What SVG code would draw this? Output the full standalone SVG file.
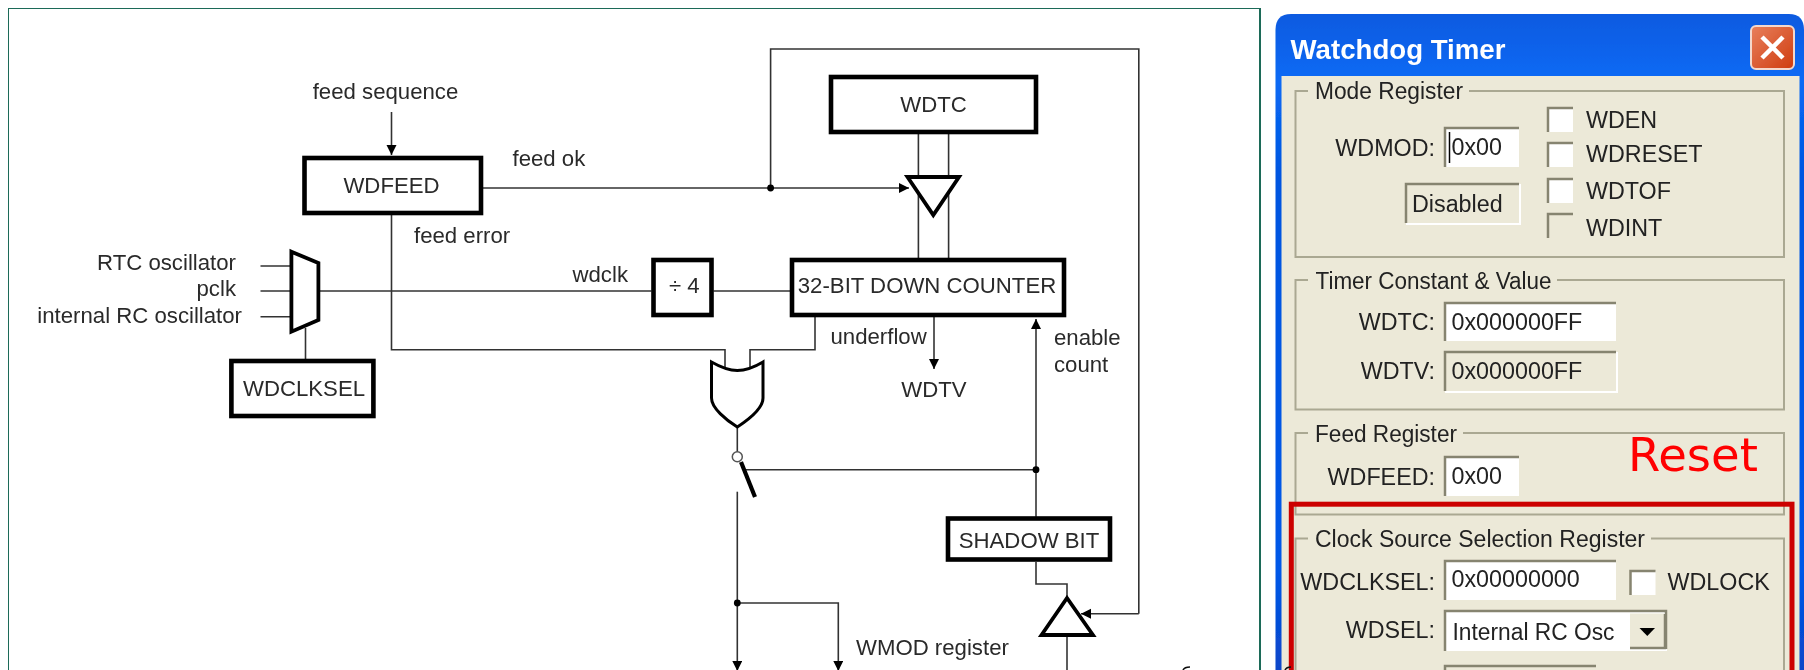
<svg xmlns="http://www.w3.org/2000/svg" width="1804" height="670" viewBox="0 0 1804 670">
<defs>
<linearGradient id="title" x1="0" y1="0" x2="0" y2="1"><stop offset="0" stop-color="#0a5ae0"/><stop offset="0.1" stop-color="#0a6af5"/><stop offset="0.25" stop-color="#0055e0"/><stop offset="0.85" stop-color="#0058e8"/><stop offset="1" stop-color="#0a45c8"/></linearGradient>
<linearGradient id="closeBtn" x1="0" y1="0" x2="1" y2="1"><stop offset="0" stop-color="#e8805c"/><stop offset="1" stop-color="#cf3c10"/></linearGradient>
<marker id="ah" markerUnits="userSpaceOnUse" markerWidth="11" markerHeight="11" refX="10" refY="5" orient="auto"><path d="M0 0L10 5L0 10Z" fill="#000"/></marker>
<filter id="soft" x="0" y="0" width="100%" height="100%"><feGaussianBlur stdDeviation="0.45"/></filter>
</defs>
<style>
text{font-family:"Liberation Sans",Arial,sans-serif;}
.l{font-size:22.2px;fill:#2a2a2a;}
.m{text-anchor:middle;}
.e{text-anchor:end;}
.box{fill:#fff;stroke:#000;stroke-width:4.6;}
.w{fill:none;stroke:#333;stroke-width:1.6;}
.a{marker-end:url(#ah);}
.gate{fill:#fff;stroke:#000;stroke-width:3.8;stroke-linejoin:miter;}
.dot{fill:#000;}
.d{font-size:23.3px;fill:#222;}
.grp{fill:none;stroke:#aaa892;stroke-width:2;}
.in{fill:#fff;}
.ro{fill:#ece9d8;}
.sd{fill:none;stroke:#86846f;stroke-width:2.5;}
.sl{fill:none;stroke:#fff;stroke-width:2;}
.gap{fill:#ece9d8;}
</style>
<rect width="1804" height="670" fill="#fff"/>
<g filter="url(#soft)">
<rect id="frame" x="8" y="8" width="1252" height="670" fill="#fff" stroke="#1b6a58" stroke-width="2"/>

<g id="connectors">
<path class="w a" d="M391.5 112V155"/>
<path class="w a" d="M483 188H909"/>
<path class="w" d="M770.6 188V49H1138.8V613.7"/>
<path class="w a" d="M1138.8 613.7H1081"/>
<path class="w" d="M391.5 215V349.7H725V368"/>
<path class="w" d="M815 317V349.7H750V368"/>
<path class="w" d="M260.5 266H292M260.5 291H292M260.5 316.7H292"/>
<path class="w" d="M320 291H651.5M713.5 291H790"/>
<path class="w" d="M305.5 328V359"/>
<path class="w" d="M918.4 134V258M948.6 134V258"/>
<path class="w a" d="M934 317V369"/>
<path class="w a" d="M1036 517V319"/>
<path class="w" d="M745 469.7H1036"/>
<path class="w" d="M737.3 427V452"/>
<path class="w a" d="M737.3 491.7V671"/>
<path class="w a" d="M737.3 603H838.3V671"/>
<path class="w" d="M1036 562V584H1067V598"/>
<path class="w" d="M1067 635V670"/>
<circle class="dot" cx="770.6" cy="188" r="3.4"/>
<circle class="dot" cx="1036" cy="469.7" r="3.4"/>
<circle class="dot" cx="737.3" cy="603" r="3.4"/>
<path d="M1183 670C1184 668 1186 667 1190 667" fill="none" stroke="#111" stroke-width="1.6"/>
</g>

<g id="feed-sequence"><text class="l m" x="385.500" y="99">feed sequence</text></g>
<g id="wdfeed"><rect class="box" x="304.500" y="158" width="176.500" height="55"/><text class="l m" x="391.500" y="192.500">WDFEED</text></g>
<g id="labels">
<text class="l" x="512.500" y="165.500">feed ok</text>
<text class="l" x="414" y="243">feed error</text>
<text class="l" x="572.500" y="282">wdclk</text>
<text class="l" x="830.500" y="344">underflow</text>
<text class="l m" x="934" y="396.500">WDTV</text>
<text class="l" x="1054" y="345">enable</text>
<text class="l" x="1054" y="371.500">count</text>
<text class="l" x="856" y="655">WMOD register</text>
<text class="l e" x="236" y="270">RTC oscillator</text>
<text class="l e" x="236" y="296">pclk</text>
<text class="l e" x="242" y="322.500">internal RC oscillator</text>
</g>
<g id="mux"><path class="gate" d="M291.400 251.700L318.400 263V320L291.400 331.700Z"/></g>
<g id="wdclksel"><rect class="box" x="231.400" y="361" width="142" height="55"/><text class="l m" x="304" y="396">WDCLKSEL</text></g>
<g id="div4"><rect class="box" x="653.500" y="260" width="58" height="55"/><text class="l" x="669" y="292.500">÷ 4</text></g>
<g id="counter"><rect class="box" x="792" y="260" width="272" height="55"/><text class="l m" x="927" y="293">32-BIT DOWN COUNTER</text></g>
<g id="wdtc"><rect class="box" x="831" y="77" width="205" height="55"/><text class="l m" x="933.500" y="111.500">WDTC</text></g>
<g id="buffer-top"><path class="gate" d="M907.500 177H959L933.300 215Z"/></g>
<g id="or-gate"><path d="M711.500 362C722 368 729 370.500 737.300 370.500C746 370.500 753 368 763 362V398C763 408 748 420 737.300 427C726 420 711.500 408 711.500 398Z" fill="#fff" stroke="#000" stroke-width="3"/></g>
<g id="switch">
<circle cx="737.300" cy="456.700" r="5" fill="#fff" stroke="#555" stroke-width="1.500"/>
<path d="M741 462L755 497" stroke="#000" stroke-width="4.200" fill="none"/>
</g>
<g id="shadow-bit"><rect class="box" x="948" y="518.500" width="162" height="41"/><text class="l m" x="1029" y="548">SHADOW BIT</text></g>
<g id="buffer-bottom"><path class="gate" d="M1067 598L1093 635H1041.500Z"/></g>

<g id="dialog">
<path d="M1275.500 670V30Q1275.500 14 1291 14H1789Q1804 14 1804 30V670Z" fill="url(#title)"/>
<rect x="1281.500" y="76" width="518" height="594" fill="#ece9d8"/>
<text x="1290.500" y="59" font-size="27.500" font-weight="700" fill="#fff" textLength="215" lengthAdjust="spacingAndGlyphs">Watchdog Timer</text>
<g id="close">
<rect x="1751" y="26" width="43" height="43" rx="5" fill="url(#closeBtn)" stroke="#f4d8cc" stroke-width="2"/>
<path d="M1762 37L1783 58M1783 37L1762 58" stroke="#fff" stroke-width="4.500" fill="none"/>
</g>

<g id="group-mode">
<rect class="grp" x="1295.500" y="91" width="488.500" height="166"/>
<rect class="gap" x="1308" y="84" width="161" height="14"/>
<text class="d" x="1315" y="99" textLength="148" lengthAdjust="spacingAndGlyphs">Mode Register</text>
<text class="d e" x="1435" y="155.500">WDMOD:</text>
<g><rect class="in" x="1445" y="128" width="74" height="39"/><path class="sd" d="M1445 167V128H1519"/><path d="M1449.500 132V163" stroke="#000" stroke-width="1.500"/><text class="d" x="1451.500" y="155">0x00</text></g>
<g><rect class="ro" x="1406" y="184" width="113" height="39"/><path class="sd" d="M1406 223V184H1519"/><path class="sl" d="M1406 224H1520V184"/><text class="d" x="1412" y="211.500">Disabled</text></g>
<g><rect class="in" x="1548" y="108" width="25" height="24"/><path class="sd" d="M1548 132V108H1573"/></g><text class="d" x="1586" y="128.300">WDEN</text>
<g><rect class="in" x="1548" y="143" width="25" height="24"/><path class="sd" d="M1548 167V143H1573"/></g><text class="d" x="1586" y="162.300">WDRESET</text>
<g><rect class="in" x="1548" y="179" width="25" height="24"/><path class="sd" d="M1548 203V179H1573"/></g><text class="d" x="1586" y="199">WDTOF</text>
<g><rect class="ro" x="1548" y="214" width="25" height="24"/><path class="sd" d="M1548 238V214H1573"/></g><text class="d" x="1586" y="235.700">WDINT</text>
</g>

<g id="group-timer">
<rect class="grp" x="1295.500" y="280" width="488.500" height="129.500"/>
<rect class="gap" x="1308" y="273" width="249" height="14"/>
<text class="d" x="1315.500" y="289" textLength="236" lengthAdjust="spacingAndGlyphs">Timer Constant &amp; Value</text>
<text class="d e" x="1435" y="330">WDTC:</text>
<g><rect class="in" x="1445" y="303" width="171" height="38"/><path class="sd" d="M1445 341V303H1616"/><text class="d" x="1451.500" y="330">0x000000FF</text></g>
<text class="d e" x="1435" y="379.300">WDTV:</text>
<g><rect class="ro" x="1445" y="352" width="171" height="39"/><path class="sd" d="M1445 391V352H1616"/><path class="sl" d="M1445 392H1617V352"/><text class="d" x="1451.500" y="379">0x000000FF</text></g>
</g>

<g id="group-feed">
<rect class="grp" x="1295.500" y="433" width="488.500" height="81.500"/>
<rect class="gap" x="1308" y="426" width="155" height="14"/>
<text class="d" x="1315" y="441.500" textLength="142" lengthAdjust="spacingAndGlyphs">Feed Register</text>
<text class="d e" x="1435" y="485">WDFEED:</text>
<g><rect class="in" x="1445" y="457" width="74" height="39"/><path class="sd" d="M1445 496V457H1519"/><text class="d" x="1451.500" y="484">0x00</text></g>
</g>

<g id="group-clock">
<path class="grp" d="M1295.500 670V538.500H1784V670"/>
<rect class="gap" x="1308" y="531" width="343" height="14"/>
<text class="d" x="1315" y="547.300" textLength="330" lengthAdjust="spacingAndGlyphs">Clock Source Selection Register</text>
<text class="d e" x="1435" y="590">WDCLKSEL:</text>
<g><rect class="in" x="1445" y="561" width="171" height="39"/><path class="sd" d="M1445 600V561H1616"/><text class="d" x="1451.500" y="587.300">0x00000000</text></g>
<g><rect class="in" x="1630.500" y="571" width="25" height="24"/><path class="sd" d="M1630.500 595V571H1655.500"/></g>
<text class="d" x="1667.500" y="590">WDLOCK</text>
<text class="d e" x="1435" y="638.300">WDSEL:</text>
<g id="combo"><rect class="in" x="1445" y="611" width="222" height="40"/><path class="sd" d="M1445 651V611H1666V649"/><rect x="1630" y="613.500" width="34" height="34" fill="#ece9d8"/><path d="M1630 648H1665V614" fill="none" stroke="#86846f" stroke-width="2.500"/><path d="M1639.500 628H1655L1647.300 636Z" fill="#000"/><text class="d" x="1452.500" y="640" textLength="162" lengthAdjust="spacingAndGlyphs">Internal RC Osc</text></g>
<path class="sd" d="M1445 670V666H1596"/>
</g>

<rect id="reset-box" x="1291.300" y="504.200" width="500.700" height="180" fill="none" stroke="#cc0000" stroke-width="5"/>
<text id="reset" x="1628" y="470.700" font-size="46.500" fill="#ff0000" style="font-family:'DejaVu Sans',sans-serif">Reset</text>
<path d="M1285 670C1286 668 1288 667 1291 667" fill="none" stroke="#111" stroke-width="1.600"/>
</g>
</g>
</svg>
